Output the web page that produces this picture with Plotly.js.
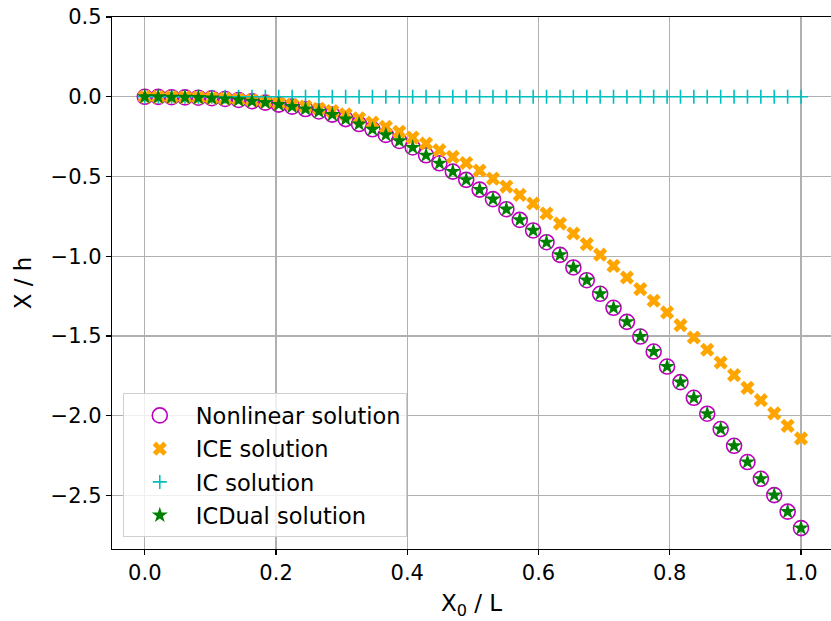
<!DOCTYPE html>
<html>
<head>
<meta charset="utf-8">
<script src="https://cdn.plot.ly/plotly-3.0.1.min.js"></script>
<style>html,body{margin:0;padding:0;background:#fff;}</style>
</head>
<body>
<div id="chart" style="width:831px;height:621px;"></div>
<script>
// 50 sample positions X0/L (i/49, i = 0..49)
const x0 = [0.0000,0.0204,0.0408,0.0612,0.0816,0.1020,0.1224,0.1429,0.1633,0.1837,
            0.2041,0.2245,0.2449,0.2653,0.2857,0.3061,0.3265,0.3469,0.3673,0.3878,
            0.4082,0.4286,0.4490,0.4694,0.4898,0.5102,0.5306,0.5510,0.5714,0.5918,
            0.6122,0.6327,0.6531,0.6735,0.6939,0.7143,0.7347,0.7551,0.7755,0.7959,
            0.8163,0.8367,0.8571,0.8776,0.8980,0.9184,0.9388,0.9592,0.9796,1.0000];

const nonlinear = [0.000,-0.001,-0.003,-0.004,-0.006,-0.009,-0.014,-0.020,-0.028,-0.037,
                   -0.049,-0.062,-0.077,-0.092,-0.112,-0.140,-0.171,-0.204,-0.239,-0.277,
                   -0.318,-0.367,-0.417,-0.469,-0.521,-0.582,-0.642,-0.705,-0.772,-0.838,
                   -0.912,-0.991,-1.070,-1.150,-1.235,-1.323,-1.411,-1.503,-1.597,-1.691,
                   -1.789,-1.887,-1.987,-2.083,-2.188,-2.290,-2.395,-2.497,-2.601,-2.704];

const ice = [0.000,-0.001,-0.002,-0.003,-0.005,-0.008,-0.012,-0.017,-0.023,-0.030,
             -0.040,-0.050,-0.062,-0.075,-0.090,-0.110,-0.135,-0.162,-0.189,-0.220,
             -0.256,-0.293,-0.335,-0.377,-0.415,-0.463,-0.513,-0.563,-0.615,-0.669,
             -0.732,-0.795,-0.857,-0.924,-0.990,-1.060,-1.133,-1.206,-1.279,-1.352,
             -1.432,-1.509,-1.586,-1.666,-1.745,-1.825,-1.902,-1.985,-2.063,-2.142];

const ic = [0,0,0,0,0,0,0,0,0,0, 0,0,0,0,0,0,0,0,0,0, 0,0,0,0,0,0,0,0,0,0,
            0,0,0,0,0,0,0,0,0,0, 0,0,0,0,0,0,0,0,0,0];

const icdual = [0.000,-0.001,-0.003,-0.004,-0.006,-0.009,-0.014,-0.020,-0.028,-0.037,
                -0.049,-0.062,-0.077,-0.092,-0.112,-0.140,-0.171,-0.204,-0.239,-0.277,
                -0.318,-0.367,-0.417,-0.469,-0.521,-0.582,-0.642,-0.705,-0.772,-0.838,
                -0.912,-0.991,-1.070,-1.150,-1.235,-1.323,-1.411,-1.503,-1.597,-1.691,
                -1.789,-1.887,-1.987,-2.083,-2.188,-2.290,-2.395,-2.497,-2.601,-2.704];

const seriesNames = ["Nonlinear solution", "ICE solution", "IC solution", "ICDual solution"];
const xTicks = [0.0, 0.2, 0.4, 0.6, 0.8, 1.0];
const xTickText = ["0.0", "0.2", "0.4", "0.6", "0.8", "1.0"];
const yTicks = [0.5, 0.0, -0.5, -1.0, -1.5, -2.0, -2.5];
const yTickText = ["0.5", "0.0", "\u22120.5", "\u22121.0", "\u22121.5", "\u22122.0", "\u22122.5"];

const FONT = "DejaVu Sans, sans-serif";

const traces = [
  {x: x0, y: nonlinear, name: seriesNames[0], type: "scatter", mode: "markers", legendgroup: "a",
   marker: {symbol: "circle-open", size: 15, color: "#bf00bf", line: {width: 1.6, color: "#bf00bf"}}},
  {x: x0, y: ice, name: seriesNames[1], type: "scatter", mode: "markers", legendgroup: "b",
   marker: {symbol: "x", size: 12.5, color: "#ffa500", line: {width: 0}}},
  {x: x0, y: ic, name: seriesNames[2], type: "scatter", mode: "markers", legendgroup: "c",
   marker: {symbol: "cross-thin", size: 10, color: "#00bfbf", line: {width: 1.6, color: "#00bfbf"}}},
  {x: x0, y: icdual, name: seriesNames[3], type: "scatter", mode: "markers", legendgroup: "d",
   marker: {symbol: "star", size: 12, color: "#008000", line: {width: 0}}}
];

const layout = {
  width: 831, height: 621,
  margin: {l: 112, r: 0, t: 17, b: 72, pad: 0},
  paper_bgcolor: "#ffffff", plot_bgcolor: "#ffffff",
  font: {family: FONT, size: 21, color: "#000000"},
  showlegend: true,
  legend: {
    x: 0.015, y: 0.022, xanchor: "left", yanchor: "bottom",
    bgcolor: "rgba(255,255,255,0.8)", bordercolor: "#d0d0d0", borderwidth: 1,
    font: {family: FONT, size: 22.5, color: "#000000"},
    traceorder: "grouped", tracegroupgap: 1, itemwidth: 62
  },
  xaxis: {
    range: [-0.05, 1.0457], tickvals: xTicks, ticktext: xTickText,
    showgrid: true, gridcolor: "#b0b0b0", gridwidth: 1.1,
    zeroline: false, showline: true, linecolor: "#000000", linewidth: 1.2, mirror: true,
    ticks: "outside", ticklen: 5, tickwidth: 1.2, tickcolor: "#000000",
    tickfont: {family: FONT, size: 21},
    title: {text: "X<sub>0</sub> / L", font: {family: FONT, size: 23}, standoff: 10}
  },
  yaxis: {
    range: [-2.835, 0.5], tickvals: yTicks, ticktext: yTickText,
    showgrid: true, gridcolor: "#b0b0b0", gridwidth: 1.1,
    zeroline: false, showline: true, linecolor: "#000000", linewidth: 1.2, mirror: false,
    ticks: "outside", ticklen: 5, tickwidth: 1.2, tickcolor: "#000000",
    tickfont: {family: FONT, size: 21},
    title: {text: "X / h", font: {family: FONT, size: 23}, standoff: 12}
  }
};

Plotly.newPlot("chart", traces, layout, {displayModeBar: false, staticPlot: true});
</script>
</body>
</html>
